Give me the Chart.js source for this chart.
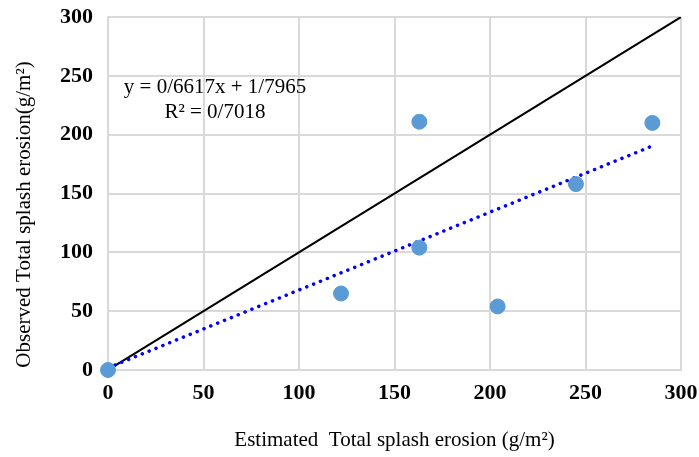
<!DOCTYPE html>
<html>
<head>
<meta charset="utf-8">
<script src="https://cdn.jsdelivr.net/npm/chart.js@4"></script>
<style>
  html, body { margin: 0; padding: 0; background: #fff; }
  #wrap { width: 699px; height: 457px; }
</style>
</head>
<body>
<div id="wrap"><canvas id="chart"></canvas></div>
<script>
"use strict";

// observed vs estimated splash erosion
var estimated = [0, 122, 163, 163, 204, 245, 285];
var observed  = [0, 65, 211, 104, 54, 158, 210];
var lineX = [0, 300];           // 1:1 line ends
var trendX = [0, 285];          // trendline range
var slope = 0.6617, intercept = 1.7965;
var eqLines = ["y = 0/6617x + 1/7965", "R\u00b2 = 0/7018"];

var points = estimated.map(function(x, i) { return {x: x, y: observed[i]}; });
var oneToOne = lineX.map(function(x) { return {x: x, y: x}; });
var trend = trendX.map(function(x) { return {x: x, y: slope * x + intercept}; });

// draws the regression equation inside the plot
var eqPlugin = {
	id: "eqText",
	afterDatasetsDraw: function(chart) {
		var ctx = chart.ctx;
		var xs = chart.scales.x, ys = chart.scales.y;
		ctx.save();
		ctx.font = "21px 'Liberation Serif'";
		ctx.fillStyle = "#000";
		ctx.textAlign = "center";
		ctx.textBaseline = "middle";
		ctx.fillText(eqLines[0], xs.getPixelForValue(56), ys.getPixelForValue(240));
		ctx.fillText(eqLines[1], xs.getPixelForValue(56), ys.getPixelForValue(219));
		ctx.restore();
	}
};

var tickFont = {family: "'Liberation Serif'", size: 22, weight: "bold", lineHeight: 1};
var titleFont = {family: "'Liberation Serif'", size: 21};

new Chart(document.getElementById("chart").getContext("2d"), {
	type: "scatter",
	data: {
		datasets: [{
			data: points,
			backgroundColor: "#5b9bd5",
			borderColor: "#5b9bd5",
			pointRadius: 7.5,
			pointHoverRadius: 7.5,
			clip: false,
			order: 1
		}, {
			type: "line",
			data: trend,
			borderColor: "#0000ff",
			borderWidth: 3.5,
			borderDash: [0.1, 7.3],
			borderCapStyle: "round",
			pointRadius: 0,
			fill: false,
			order: 2
		}, {
			type: "line",
			data: oneToOne,
			borderColor: "#000",
			borderWidth: 2,
			pointRadius: 0,
			fill: false,
			order: 3
		}]
	},
	options: {
		responsive: true,
		maintainAspectRatio: false,
		animation: false,
		layout: {padding: {left: 8, right: 0, top: 0, bottom: 0}},
		plugins: {legend: {display: false}, tooltip: {enabled: false}},
		scales: {
			x: {
				type: "linear", min: 0, max: 300,
				ticks: {stepSize: 50, color: "#000", font: tickFont, padding: 12},
				grid: {color: "#d9d9d9", lineWidth: 2, tickLength: 0},
				border: {color: "#d9d9d9", width: 2},
				title: {display: true, text: "Estimated  Total splash erosion (g/m\u00b2)", color: "#000", font: titleFont, padding: {top: 20}},
				afterFit: function(s) { s.height = 87; s.paddingLeft = 0; s.paddingRight = 18; }
			},
			y: {
				type: "linear", min: 0, max: 300,
				ticks: {stepSize: 50, color: "#000", font: tickFont, padding: 15},
				grid: {color: "#d9d9d9", lineWidth: 2, tickLength: 0},
				border: {color: "#d9d9d9", width: 2},
				// trailing spaces push the rotated title down a little, as in the original
				title: {display: true, text: "Observed Total splash erosion(g/m\u00b2)        ", color: "#000", font: titleFont, padding: {bottom: 4}},
				afterFit: function(s) { s.width = 100; s.paddingTop = 17; s.paddingBottom = 0; }
			}
		}
	},
	plugins: [eqPlugin]
});
</script>
</body>
</html>
